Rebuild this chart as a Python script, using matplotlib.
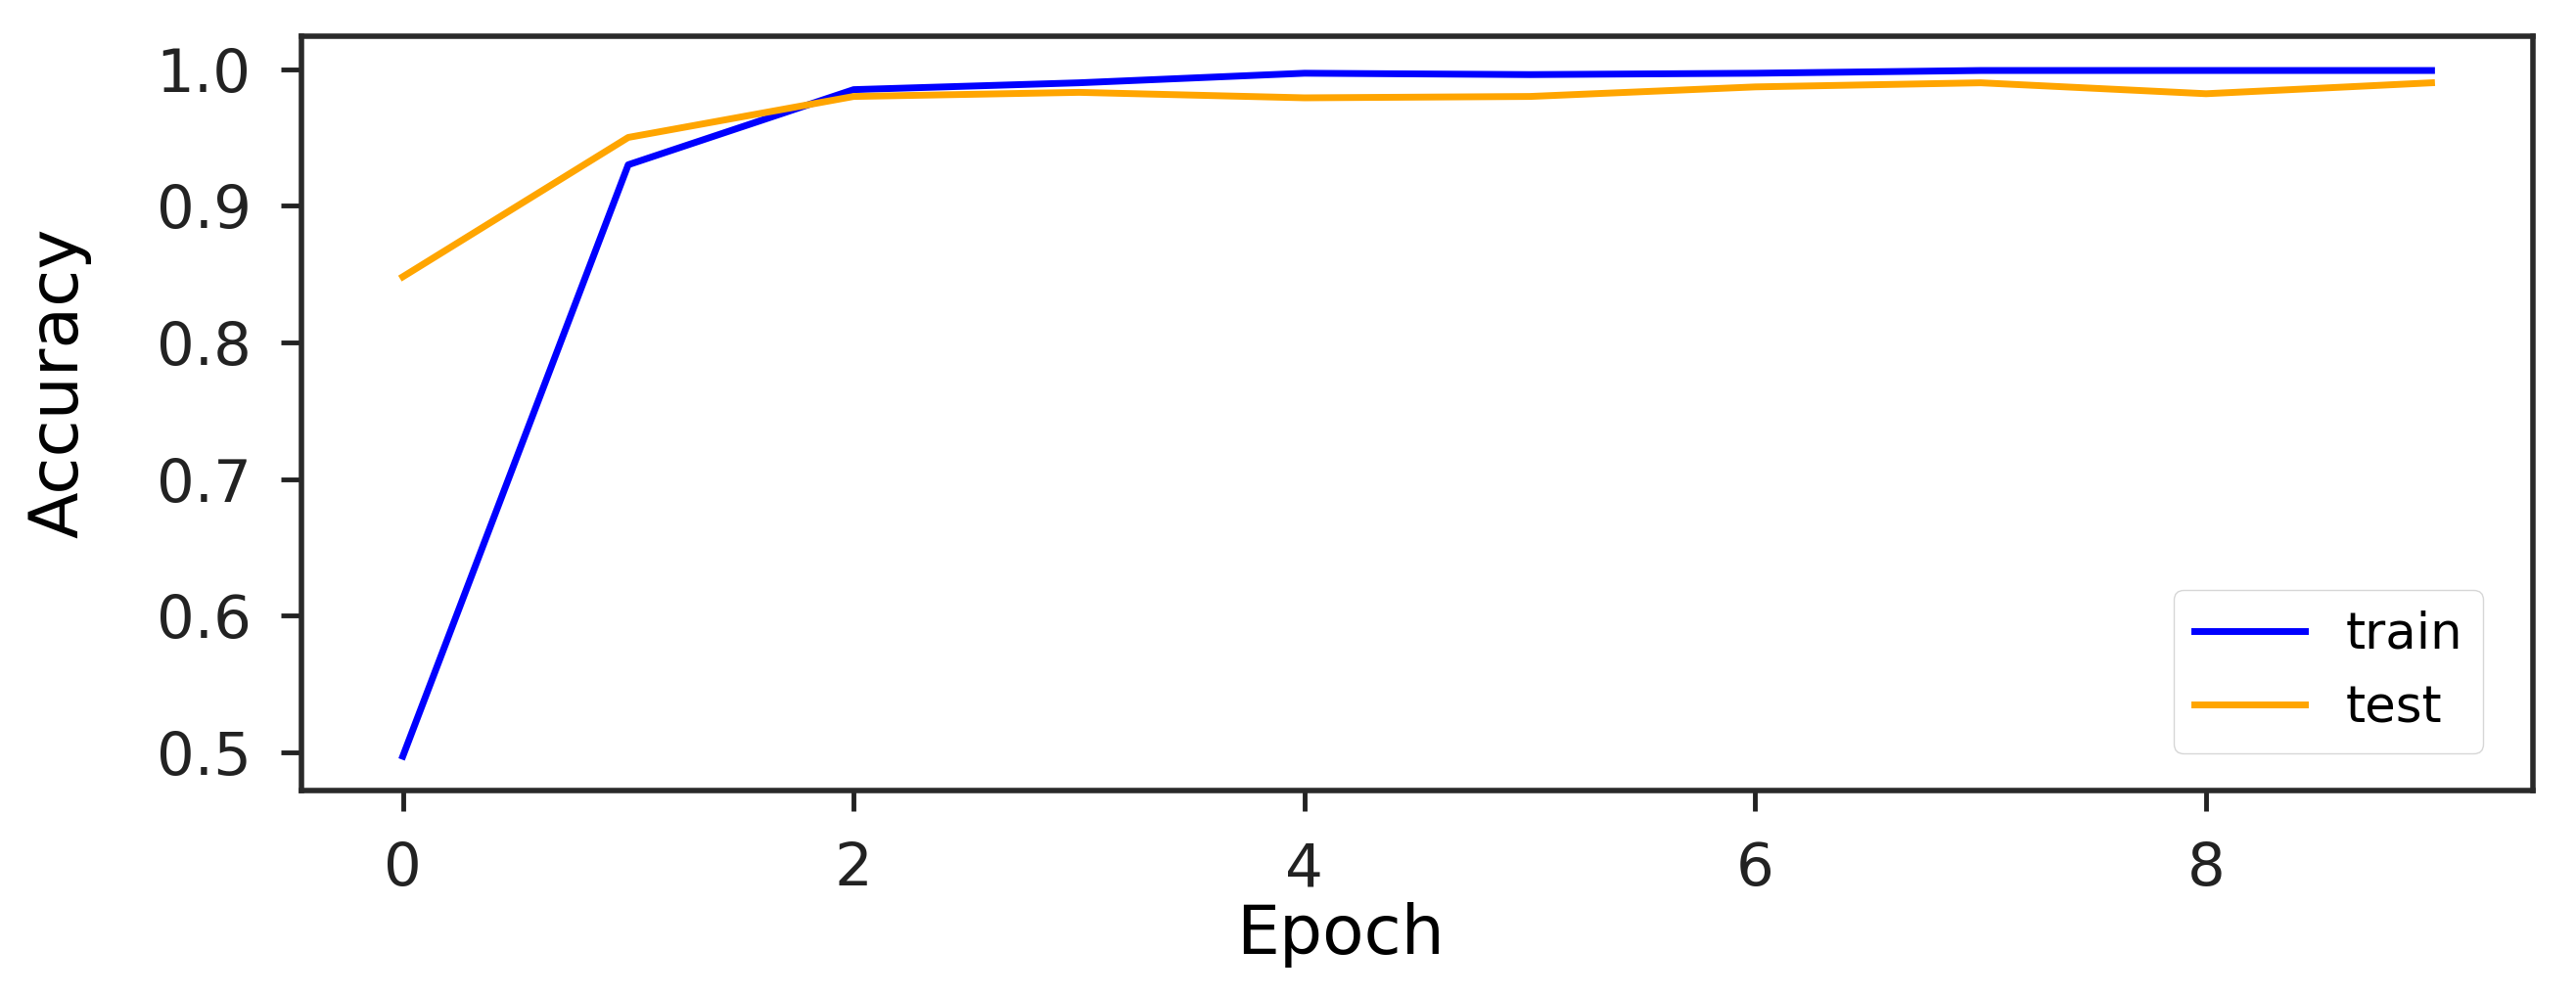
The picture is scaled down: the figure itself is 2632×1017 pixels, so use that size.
import matplotlib
matplotlib.use("Agg")
import matplotlib.pyplot as plt

epochs = [0, 1, 2, 3, 4, 5, 6, 7, 8, 9]
train_acc = [0.497, 0.930, 0.985, 0.990, 0.997, 0.996, 0.997, 0.999, 0.999, 0.999]
test_acc = [0.848, 0.950, 0.980, 0.983, 0.979, 0.980, 0.987, 0.990, 0.982, 0.990]

fig = plt.figure(figsize=(26.32, 10.17), dpi=100)
ax = fig.add_axes([0.117, 0.2055, 0.8663, 0.7581])
ax.plot(epochs, train_acc, color="blue", linewidth=5, label="train")
ax.plot(epochs, test_acc, color="orange", linewidth=5, label="test")

ax.set_xticks([0, 2, 4, 6, 8])
ax.set_yticks([0.5, 0.6, 0.7, 0.8, 0.9, 1.0])
ax.tick_params(labelsize=44, length=15, width=3.5, pad=22, colors="#222222")
for s in ax.spines.values():
    s.set_linewidth(4)
    s.set_color("#2a2a2a")
ax.set_xlabel("Epoch", fontsize=50)
ax.set_ylabel("Accuracy", fontsize=50)
ax.xaxis.set_label_coords(0.4654, -0.148)
ax.yaxis.set_label_coords(-0.094, 0.541)
ax.legend(loc="lower right", bbox_to_anchor=(0.9776, 0.0493), borderaxespad=0,
          fontsize=37, handlelength=2.2, handletextpad=0.82)

fig.savefig("out.png", dpi=100)
